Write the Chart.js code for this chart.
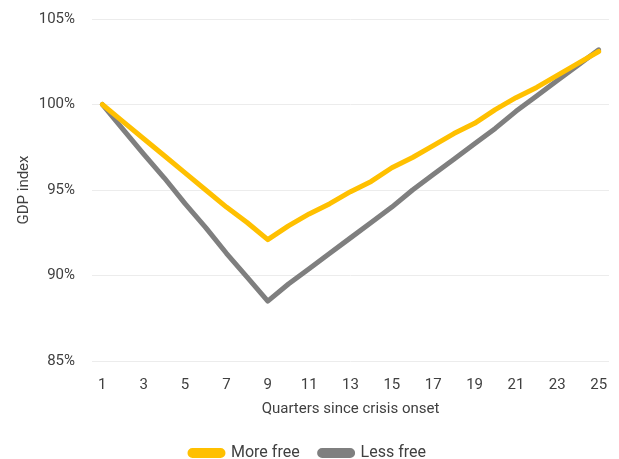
<!DOCTYPE html>
<html>
<head>
<meta charset="utf-8">
<script src="https://cdn.jsdelivr.net/npm/chart.js@4/dist/chart.umd.min.js"></script>
<style>
html,body{margin:0;padding:0;background:#fff;}
#wrap{width:619px;height:459px;position:relative;}
</style>
</head>
<body>
<div id="wrap"><canvas id="c" width="619" height="459"></canvas></div>
<script>
const quarters = [1,2,3,4,5,6,7,8,9,10,11,12,13,14,15,16,17,18,19,20,21,22,23,24,25];
const moreFree = [100,99.0,98.0,97.0,96.0,95.0,94.0,93.1,92.1,92.9,93.6,94.2,94.9,95.5,96.3,96.9,97.6,98.3,98.9,99.7,100.4,101.0,101.7,102.4,103.1];
const lessFree = [100,98.55,97.1,95.7,94.2,92.8,91.3,89.9,88.5,89.5,90.4,91.3,92.2,93.1,94.0,95.0,95.9,96.8,97.7,98.6,99.6,100.5,101.4,102.3,103.2];
const seriesNames = ["More free","Less free"];
const yTicks = [85,90,95,100,105];

const font = "Roboto, 'DejaVu Sans', sans-serif";
const txt = '#404040';
new Chart(document.getElementById('c'), {
  type: 'line',
  data: {
    labels: quarters,
    datasets: [
      {label: seriesNames[0], data: moreFree, borderColor:'#FFC000', backgroundColor:'#FFC000', borderWidth:5, pointRadius:0, tension:0, borderJoinStyle:'round', borderCapStyle:'round'},
      {label: seriesNames[1], data: lessFree, borderColor:'#7F7F7F', backgroundColor:'#7F7F7F', borderWidth:5, pointRadius:0, tension:0, borderJoinStyle:'round', borderCapStyle:'round'}
    ]
  },
  options: {
    responsive:false, animation:false,
    layout:{padding:{left:7,right:10,top:19,bottom:-12}},
    plugins:{
      legend:{position:'bottom', labels:{font:{family:font,size:16}, color:txt, boxWidth:33, boxHeight:5, useBorderRadius:true, borderRadius:2.5, padding:20}},
      tooltip:{enabled:false}
    },
    scales:{
      x:{
        offset:true,
        grid:{display:false, drawTicks:false},
        border:{display:false},
        afterFit: s => { s.height = 64; s.paddingLeft = 0; s.paddingRight = 0; },
        ticks:{autoSkip:false, maxRotation:0, color:txt, font:{family:font,size:15}, padding:15,
          callback:function(v,i){ return i%2===0 ? quarters[i] : ''; }},
        title:{display:true, text:'Quarters since crisis onset', color:txt, font:{family:font,size:15}, padding:{top:0,bottom:7}}
      },
      y:{
        min:85, max:105,
        afterBuildTicks: s => { s.ticks = yTicks.map(v=>({value:v})); },
        afterFit: s => { s.width = 85; s.paddingTop = 0; s.paddingBottom = 0; },
        grid:{color:'#ECECEC', lineWidth:1, drawTicks:false},
        border:{display:false},
        ticks:{color:txt, font:{family:font,size:15}, padding:17, callback:v=>v+'%'},
        title:{display:true, text:'GDP index', color:txt, font:{family:font,size:15}, padding:{top:8,bottom:0}}
      }
    }
  }
});
</script>
</body>
</html>
